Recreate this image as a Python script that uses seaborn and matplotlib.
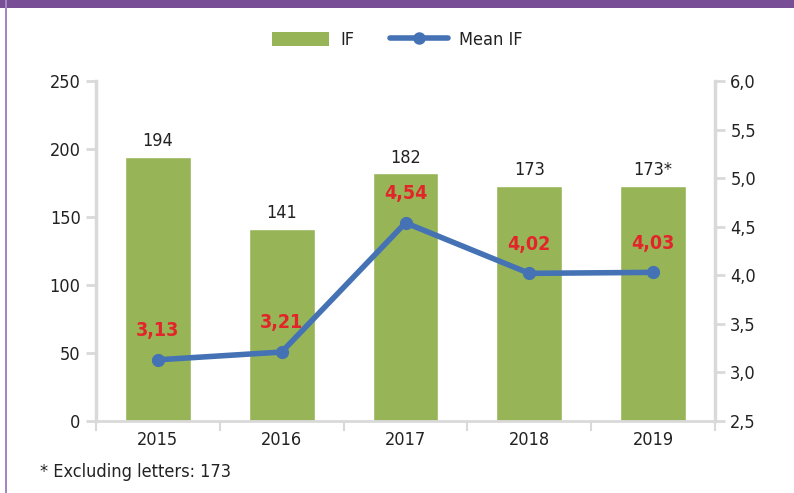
import numpy as np
import pandas as pd
import matplotlib
matplotlib.use('Agg')
import matplotlib.pyplot as plt
import seaborn as sns
from matplotlib.lines import Line2D
from matplotlib.patches import Patch, Rectangle
from matplotlib.ticker import FuncFormatter

#%% data
years     = ['2015', '2016', '2017', '2018', '2019']
if_count  = [194, 141, 182, 173, 173]
bar_text  = ['194', '141', '182', '173', '173*']
mean_if   = [3.13, 3.21, 4.54, 4.02, 4.03]
mean_text = ['3,13', '3,21', '4,54', '4,02', '4,03']

df = pd.DataFrame({'year': years, 'IF': if_count, 'meanIF': mean_if})

green  = '#97b556'
blue   = '#4472b4'
red    = '#e3252b'
grey   = '#d9d9d9'
txtcol = '#222222'

sns.set_style('white')
plt.rcParams['font.family'] = ['DejaVu Sans']
plt.rcParams['font.stretch'] = 'condensed'

#%% figure
fig = plt.figure(figsize=(7.94, 4.93), dpi=100)
ax = fig.add_axes([96/794, 1-421/493, (715-96)/794, (421-81)/493])

sns.barplot(data=df, x='year', y='IF', color=green, width=0.53, saturation=1, ax=ax)
ax.bar_label(ax.containers[0], labels=bar_text, padding=5, fontsize=13, color=txtcol)
ax.set_ylim(0, 250)
ax.set_yticks(np.arange(0, 251, 50))
ax.set_xlim(-0.5, 4.5)
ax.set_xlabel('')
ax.set_ylabel('')

ax2 = ax.twinx()
sns.pointplot(data=df, x='year', y='meanIF', color=blue, markers='o',
              markersize=6.5, linewidth=4, ax=ax2)
ax2.set_ylim(2.5, 6.0)
ax2.set_yticks(np.arange(2.5, 6.01, 0.5))
ax2.yaxis.set_major_formatter(FuncFormatter(lambda v, p: ('%.1f' % v).replace('.', ',')))
ax2.set_xlim(-0.5, 4.5)
ax2.set_ylabel('')
for i, t in enumerate(mean_text):
    ax2.annotate(t, (i, mean_if[i]), xytext=(0, 21), textcoords='offset points',
                 ha='center', va='center', color=red, fontsize=14, fontweight='bold')

# spines / ticks
for a in (ax, ax2):
    for s in a.spines.values():
        s.set_visible(False)
ax.spines['left'].set_visible(True)
ax.spines['left'].set_color(grey)
ax.spines['left'].set_linewidth(2.5)
ax.spines['bottom'].set_visible(True)
ax.spines['bottom'].set_color(grey)
ax.spines['bottom'].set_linewidth(2)
ax2.spines['right'].set_visible(True)
ax2.spines['right'].set_color(grey)
ax2.spines['right'].set_linewidth(2.5)

ax.tick_params(axis='y', left=True, length=7, width=2, color=grey, labelsize=13, labelcolor=txtcol, pad=4)
ax2.tick_params(axis='y', right=True, length=7, width=2, color=grey, labelsize=13, labelcolor=txtcol, pad=4)
ax.set_xticks(np.arange(-0.5, 4.6, 1), minor=True)
ax.tick_params(axis='x', which='major', length=0, labelsize=13, labelcolor=txtcol, pad=7)
ax.tick_params(axis='x', which='minor', bottom=True, length=7, width=1.5, color=grey)
ax2.tick_params(axis='x', bottom=False, labelbottom=False)

# legend
handles = [Patch(facecolor=green, edgecolor='none'),
           Line2D([0], [0], color=blue, lw=4, marker='o', markersize=8)]
fig.legend(handles, ['IF', 'Mean IF'], loc='center', bbox_to_anchor=(0.5, 1-40/493),
           ncol=2, frameon=False, fontsize=13, handlelength=3.2, handleheight=0.8,
           columnspacing=2.0, handletextpad=0.6, labelcolor=txtcol)

fig.text(40/794, 1-472/493, '* Excluding letters: 173', fontsize=13, color=txtcol, va='center')

# frame: purple band on top and thin line on the left
fig.patches.append(Rectangle((0, 1-8/493), 1, 8/493, transform=fig.transFigure,
                             facecolor='#784e96', edgecolor='none'))
fig.patches.append(Rectangle((5/794, 0), 2/794, 1, transform=fig.transFigure,
                             facecolor='#a487c0', edgecolor='none'))

fig.savefig('out.png', dpi=100)
